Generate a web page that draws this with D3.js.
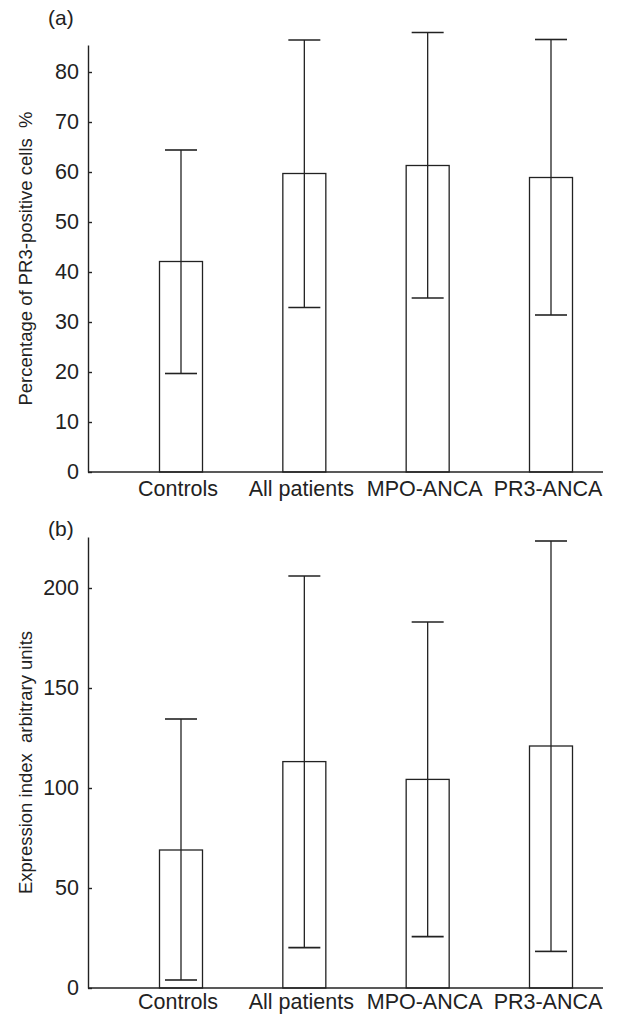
<!DOCTYPE html>
<html>
<head>
<meta charset="utf-8">
<script src="https://cdn.jsdelivr.net/npm/d3@7"></script>
<style>
  html, body { margin: 0; padding: 0; background: #fff; }
  svg { display: block; font-family: "Liberation Sans", Arial, sans-serif; }
  text { fill: #222; }
</style>
</head>
<body>
<svg id="chart" width="622" height="1015"></svg>
<script>
// ---- data ----
const categories = ["Controls", "All patients", "MPO-ANCA", "PR3-ANCA"];

// Panel (a): percentage of PR3-positive cells
const pctMean  = [42.1, 59.7, 61.3, 58.9];
const pctLower = [19.7, 32.9, 34.8, 31.4];
const pctUpper = [64.4, 86.4, 87.9, 86.5];
const pctTicks = [0, 10, 20, 30, 40, 50, 60, 70, 80];

// Panel (b): expression index
const expMean  = [69.0, 113.2, 104.3, 121.0];
const expLower = [4.0, 20.2, 25.7, 18.3];
const expUpper = [134.5, 206.0, 183.0, 223.5];
const expTicks = [0, 50, 100, 150, 200];

const svg = d3.select("#chart");
const ink = "#222";

const x = d3.scalePoint().domain(categories).range([178, 548]);
const barShift = 3, barW = 43, capW = 32;

function panel(opts) {
  const g = svg.append("g");
  const y = d3.scaleLinear().domain([0, opts.yMax]).range([opts.y0, opts.yTop]);

  // y axis
  const ax = g.append("g")
    .attr("transform", `translate(88,0)`)
    .call(d3.axisLeft(y).tickValues(opts.ticks).tickSizeInner(-4).tickSizeOuter(0).tickPadding(9));
  ax.select(".domain").attr("stroke", ink).attr("stroke-width", 1.4);
  ax.selectAll(".tick line").attr("stroke", ink).attr("stroke-width", 1.4);
  ax.selectAll(".tick text").attr("fill", ink).style("font-size", "21.5px")
    .style("font-family", "Liberation Sans, Arial, sans-serif");

  // x axis baseline
  g.append("line")
    .attr("x1", 88).attr("x2", 603)
    .attr("y1", y(0)).attr("y2", y(0))
    .attr("stroke", ink).attr("stroke-width", 1.4);

  const data = categories.map((c, i) => ({c, m: opts.mean[i], lo: opts.lower[i], hi: opts.upper[i]}));
  const cx = d => x(d.c) + barShift;

  // bars
  g.selectAll("rect.bar").data(data).enter().append("rect")
    .attr("class", "bar")
    .attr("x", d => cx(d) - barW / 2)
    .attr("width", barW)
    .attr("y", d => y(d.m))
    .attr("height", d => y(0) - y(d.m))
    .attr("fill", "none").attr("stroke", ink).attr("stroke-width", 1.3);

  // error bars
  g.selectAll("line.err").data(data).enter().append("line")
    .attr("class", "err")
    .attr("x1", cx).attr("x2", cx)
    .attr("y1", d => y(d.lo)).attr("y2", d => y(d.hi))
    .attr("stroke", ink).attr("stroke-width", 1.3);
  ["lo", "hi"].forEach(k => {
    g.selectAll("line.cap" + k).data(data).enter().append("line")
      .attr("class", "cap" + k)
      .attr("x1", d => cx(d) - capW / 2).attr("x2", d => cx(d) + capW / 2)
      .attr("y1", d => y(d[k])).attr("y2", d => y(d[k]))
      .attr("stroke", ink).attr("stroke-width", 1.6);
  });

  // category labels
  g.selectAll("text.cat").data(categories).enter().append("text")
    .attr("class", "cat")
    .attr("x", d => x(d)).attr("y", y(0) + opts.catGap)
    .attr("text-anchor", "middle")
    .style("font-size", "21.5px")
    .text(d => d);

  // y title
  g.append("text")
    .attr("transform", `translate(32,${(opts.y0 + opts.yTop) / 2}) rotate(-90)`)
    .attr("text-anchor", "middle")
    .style("font-size", "18.5px")
    .style("white-space", "pre")
    .text(opts.title);

  // panel label
  g.append("text")
    .attr("x", 48).attr("y", opts.labelY)
    .style("font-size", "21px")
    .text(opts.label);
}

panel({
  yMax: 85.4, y0: 472, yTop: 45, ticks: pctTicks,
  mean: pctMean, lower: pctLower, upper: pctUpper, catGap: 24,
  title: "Percentage of PR3-positive cells  %", label: "(a)", labelY: 25
});
panel({
  yMax: 225.5, y0: 988, yTop: 537, ticks: expTicks,
  mean: expMean, lower: expLower, upper: expUpper, catGap: 21,
  title: "Expression index  arbitrary units", label: "(b)", labelY: 536
});
</script>
</body>
</html>
